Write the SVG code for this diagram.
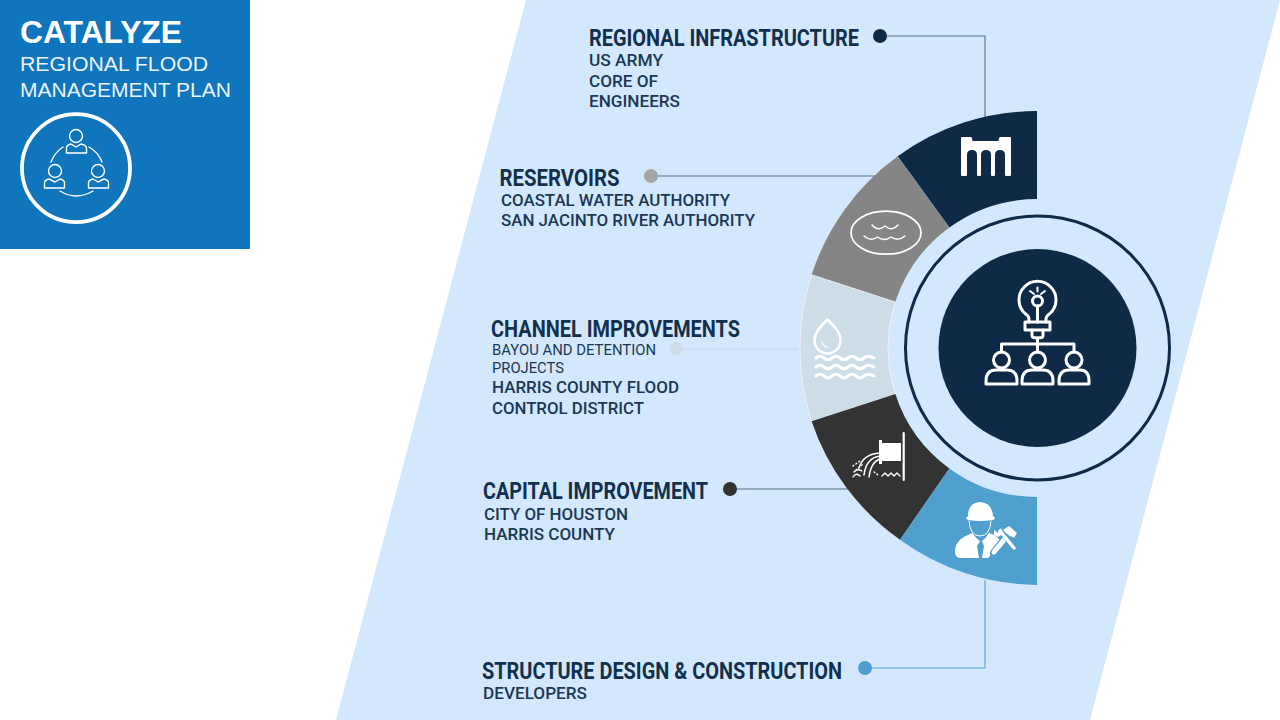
<svg xmlns="http://www.w3.org/2000/svg" width="1280" height="720" viewBox="0 0 1280 720">
<style>
.h{font-family:Roboto,"Liberation Sans",sans-serif;font-weight:700;font-size:24px;fill:#12304d}
.b{font-family:Roboto,"Liberation Sans",sans-serif;font-weight:500;font-size:16px;fill:#1a3854}
.s{font-size:14px;font-weight:400}
.t{font-family:"Liberation Sans",Arial,sans-serif;fill:#fff}
.c{fill:none;stroke:#54708a;stroke-width:1.100}
.w{fill:none;stroke:#fff;stroke-linecap:round;stroke-linejoin:round}
.f{fill:#fff}
</style>
<rect width="1280" height="720" fill="#fff"/>
<polygon points="526,0 1280,0 1090,720 336,720" fill="#d4e8fd"/>
<g id="title-panel">
<rect width="250" height="249" fill="#0f75bd"/>
<text class="t" x="20" y="43" font-size="31" font-weight="700" textLength="162" lengthAdjust="spacingAndGlyphs">CATALYZE</text>
<text class="t" x="20" y="71" font-size="20.500" textLength="188" lengthAdjust="spacingAndGlyphs" opacity=".92">REGIONAL FLOOD</text>
<text class="t" x="20" y="97" font-size="20.500" textLength="211" lengthAdjust="spacingAndGlyphs" opacity=".92">MANAGEMENT PLAN</text>
<circle cx="76" cy="168.200" r="54" fill="none" stroke="#fff" stroke-width="3.800"/>
<g class="w" stroke-width="1.400">
<circle cx="76" cy="136" r="6.500"/>
<path d="M66.500 153V148Q66.500 145 71 144L76 147L81 144Q86 145 86.500 148V153Z"/>
<circle cx="55" cy="171" r="6.500"/>
<path d="M44.500 188V183Q44.500 180 49 179L55 182L60 179Q64.500 180 64.500 183V188Z"/>
<circle cx="98" cy="171" r="6.500"/>
<path d="M88.500 188V183Q88.500 180 93 179L98 182L104 179Q108.500 180 108.500 183V188Z"/>
<path d="M51 162Q55 152 63 147M89 147Q98 152 102 162M60 191Q76 201 93 191"/>
</g>
</g>
<g id="connectors">
<path class="c" d="M880 36H985V118"/>
<path class="c" d="M651 176H876"/>
<path d="M676 349H803" fill="none" stroke="#c5d8e6" stroke-width="1.100"/>
<path class="c" d="M730 489H849"/>
<path d="M865 668H985V580" fill="none" stroke="#4f9fcf" stroke-width="1.100"/>
<circle cx="880" cy="36" r="7" fill="#0e2a47"/>
<circle cx="651" cy="176" r="7" fill="#a6a6a6"/>
<circle cx="676" cy="349" r="6.500" fill="#cddde8"/>
<circle cx="730" cy="489" r="7" fill="#333"/>
<circle cx="865" cy="668" r="7" fill="#4f9fcf"/>
</g>
<g id="node-infrastructure">
<path d="M1037 111A237 237 0 0 0 897.700 156.300L949.400 227.500A149 149 0 0 1 1037 199Z" fill="#0e2a47"/>
<path class="f" fill-rule="evenodd" d="M961 138Q961 137 962 137H971Q972 137 972.500 141H998.500Q999 137 1000 137H1010Q1011 137 1011 138V175Q1011 176 1010 176H1006Q1005 176 1005 175V155Q1005 150 1000 150Q995 150 995 155V175Q995 176 994 176H992Q991 176 991 175V155Q991 150 986 150Q981 150 981 155V175Q981 176 980 176H978Q977 176 977 175V155Q977 150 972 150Q967 150 967 155V175Q967 176 966 176H962Q961 176 961 175Z"/>
<text class="h" x="589" y="46" textLength="270" lengthAdjust="spacingAndGlyphs">REGIONAL INFRASTRUCTURE</text>
<text class="b" x="589" y="66" textLength="74" lengthAdjust="spacingAndGlyphs">US ARMY</text>
<text class="b" x="589" y="87" textLength="69" lengthAdjust="spacingAndGlyphs">CORE OF</text>
<text class="b" x="589" y="107" textLength="91" lengthAdjust="spacingAndGlyphs">ENGINEERS</text>
</g>
<g id="node-reservoirs">
<path d="M897.700 156.300A237 237 0 0 0 811.600 274.800L895.300 302A149 149 0 0 1 949.400 227.500Z" fill="#858585"/>
<ellipse class="w" cx="886" cy="232.700" rx="35" ry="21.500" stroke-width="1.700"/>
<path class="w" stroke-width="1.500" d="M872 225Q878 232 885 226Q892 232 898 225M864 236Q871 242 877.500 237Q884.500 242 891 237Q898 242 905 236"/>
<text class="h" x="499.500" y="186" textLength="120" lengthAdjust="spacingAndGlyphs">RESERVOIRS</text>
<text class="b" x="501" y="206" textLength="229" lengthAdjust="spacingAndGlyphs">COASTAL WATER AUTHORITY</text>
<text class="b" x="501" y="226" textLength="254" lengthAdjust="spacingAndGlyphs">SAN JACINTO RIVER AUTHORITY</text>
</g>
<g id="node-channel">
<path d="M811.600 274.800A237 237 0 0 0 811.600 421.200L895.300 394A149 149 0 0 1 895.300 302Z" fill="#cddde8" stroke="#eef5fb" stroke-width=".8"/>
<path class="w" stroke-width="2.400" d="M827.500 319.500Q841 332 840.500 340.500A13 13 0 0 1 814.500 340.500Q814 332 827.500 319.500Z"/>
<path class="w" stroke-width="1.200" d="M822 341Q823 346.500 828 347.500"/>
<path class="w" stroke-width="3" d="M816 358Q820 354.500 824 358T832 358T840 358T848 358T856 358T864 358T874 358M816 367Q820 363.500 824 367T832 367T840 367T848 367T856 367T864 367T874 367M816 376Q820 372.500 824 376T832 376T840 376T848 376T856 376T864 376T874 376"/>
<text class="h" x="491" y="337" textLength="249" lengthAdjust="spacingAndGlyphs">CHANNEL IMPROVEMENTS</text>
<text class="b s" x="492" y="355" textLength="164" lengthAdjust="spacingAndGlyphs">BAYOU AND DETENTION</text>
<text class="b s" x="492" y="373" textLength="72" lengthAdjust="spacingAndGlyphs">PROJECTS</text>
<text class="b" x="492" y="393" textLength="187" lengthAdjust="spacingAndGlyphs">HARRIS COUNTY FLOOD</text>
<text class="b" x="492" y="414" textLength="152" lengthAdjust="spacingAndGlyphs">CONTROL DISTRICT</text>
</g>
<g id="node-capital">
<path d="M811.600 421.200A237 237 0 0 0 900 539.700L949.400 468.500A149 149 0 0 1 895.300 394Z" fill="#333"/>
<path class="w" stroke-width="2.200" d="M903.700 433V480"/>
<path class="f" d="M879 440H882V443H901V461H882V464H879Z"/>
<path class="w" stroke-width="1.500" d="M880 456Q866 458 864 475M880 459Q871 462 869 477M880 453Q863 454 859 468"/>
<path class="w" stroke-width="1.400" d="M882 476L885 473L888 476L891 473L894 476L897 473L900 476M853 477Q856 472 860 476M854 472Q857 468 862 471"/>
<path class="w" stroke-width="1.400" stroke-dasharray="1 2.500" d="M853 466L860 461M856 470L863 464M874 472L878 475"/>
<text class="h" x="483" y="499" textLength="225" lengthAdjust="spacingAndGlyphs">CAPITAL IMPROVEMENT</text>
<text class="b" x="484" y="520" textLength="144" lengthAdjust="spacingAndGlyphs">CITY OF HOUSTON</text>
<text class="b" x="484" y="540" textLength="131" lengthAdjust="spacingAndGlyphs">HARRIS COUNTY</text>
</g>
<g id="node-structure">
<path d="M900 539.700A237 237 0 0 0 1037 585V497A149 149 0 0 1 949.400 468.500Z" fill="#4f9fcf"/>
<path class="f" d="M968 516Q968 503 980 502Q992 503 993 516L995 518Q995 519 993 520Q980 522 968 520Q966 519 966 518Z"/>
<path class="w" stroke-width="1" d="M969 521Q970 536 980 536Q990 536 991 521"/>
<path class="f" d="M955 552Q955 540 968 535L972 533Q978 540 980 541L977 546L979 558H961Q955 558 955 552ZM982 541Q986 538 989 533L994 535Q1002 540 1000 545L988 558H982L984 546Z"/>
<path d="M994 553L1008 535" fill="none" stroke="#4f9fcf" stroke-width="8" stroke-linecap="round"/>
<path class="w" stroke-width="5" d="M994 552L1008 535"/>
<path d="M1001 530L1014 547" fill="none" stroke="#4f9fcf" stroke-width="6" stroke-linecap="round"/>
<path class="w" stroke-width="3.500" d="M1000 531L1014 548"/>
<path class="f" d="M994 530L998 533L1001 528L1003 534L998 537L994 535ZM1003 530L1009 526L1017 533L1014 538L1007 534Z"/>
<text class="h" x="482" y="679" textLength="360" lengthAdjust="spacingAndGlyphs">STRUCTURE DESIGN &amp; CONSTRUCTION</text>
<text class="b" x="483" y="699" textLength="104" lengthAdjust="spacingAndGlyphs">DEVELOPERS</text>
</g>
<g id="node-center">
<circle cx="1037.500" cy="348" r="132" fill="none" stroke="#0e2a47" stroke-width="3"/>
<circle cx="1037.500" cy="348" r="99" fill="#0e2a47"/>
<g class="w" stroke-width="3">
<path d="M1029 322V319Q1029 316 1025 313.500A18.500 18.500 0 1 1 1050 313.500Q1046 316 1046 319V322"/>
<rect x="1025" y="322" width="25" height="8"/>
<path d="M1032 330V336Q1032 338 1037.500 338Q1043 338 1043 336V330M1037.500 306V322"/>
<circle cx="1037.500" cy="301" r="5"/>
<path stroke-width="2" d="M1030 291L1034 294M1037.500 287.500V291.500M1045 291L1041 294"/>
<path d="M1037.500 338V352M1001.500 352V344H1074V352"/>
<circle cx="1001.500" cy="360" r="8"/><circle cx="1037.500" cy="360" r="8"/><circle cx="1074" cy="360" r="8"/>
<path d="M986 384V381Q986 370 996 370H1007Q1017 370 1017 381V384Z"/>
<path d="M1022 384V381Q1022 370 1032 370H1043Q1053 370 1053 381V384Z"/>
<path d="M1059 384V381Q1059 370 1069 370H1080Q1089 370 1089 381V384Z"/>
</g>
</g>
</svg>
